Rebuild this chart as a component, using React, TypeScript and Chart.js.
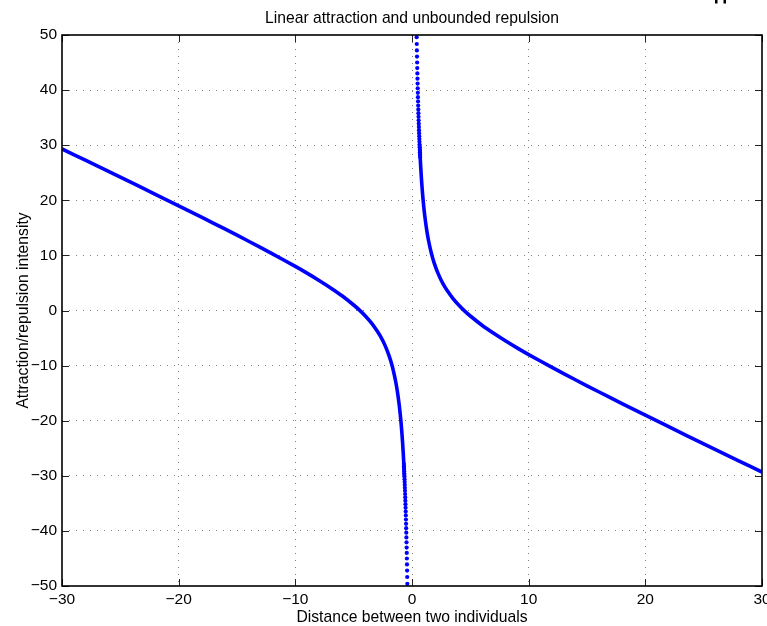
import React, { useEffect, useRef } from "react";
import { Chart, registerables } from "chart.js";

Chart.register(...registerables);

const TITLE = "Linear attraction and unbounded repulsion";
const X_LABEL = "Distance between two individuals";
const Y_LABEL = "Attraction/repulsion intensity";

const X_MIN = -30;
const X_MAX = 30;
const Y_MIN = -50;
const Y_MAX = 50;
const X_TICKS = [-30, -20, -10, 0, 10, 20, 30];
const Y_TICKS = [-50, -40, -30, -20, -10, 0, 10, 20, 30, 40, 50];

// Solid part of the right branch (x > 0)
const rightX = [0.65, 0.7, 0.8, 0.9, 1, 1.1, 1.25, 1.4, 1.6, 1.8, 2, 2.25, 2.5, 2.75, 3, 3.5, 4, 4.5, 5, 6, 7, 8, 9, 10, 12, 14, 16, 18, 20, 22, 25, 28, 30];
const rightY = [30.12, 27.87, 24.2, 21.32, 19, 17.08, 14.75, 12.89, 10.9, 9.31, 8, 6.64, 5.5, 4.52, 3.67, 2.21, 1, -0.06, -1, -2.67, -4.14, -5.5, -6.78, -8, -10.33, -12.57, -14.75, -16.89, -19, -21.09, -24.2, -27.29, -29.33];

// Solid part of the left branch (x < 0)
const leftX = [-30, -28, -25, -22, -20, -18, -16, -14, -12, -10, -9, -8, -7, -6, -5, -4.5, -4, -3.5, -3, -2.75, -2.5, -2.25, -2, -1.8, -1.6, -1.4, -1.25, -1.1, -1, -0.9, -0.8, -0.7, -0.65];
const leftY = [29.33, 27.29, 24.2, 21.09, 19, 16.89, 14.75, 12.57, 10.33, 8, 6.78, 5.5, 4.14, 2.67, 1, 0.06, -1, -2.21, -3.67, -4.52, -5.5, -6.64, -8, -9.31, -10.9, -12.89, -14.75, -17.08, -19, -21.32, -24.2, -27.87, -30.12];

// Separate sample dots near the asymptote
const rightDotX = [0.4, 0.41, 0.42, 0.43, 0.44, 0.45, 0.46, 0.47, 0.48, 0.49, 0.5, 0.51, 0.52, 0.53, 0.54, 0.55, 0.56, 0.57, 0.58, 0.59, 0.6, 0.61, 0.62, 0.63, 0.64, 0.65, 0.66, 0.67, 0.68, 0.69, 0.7];
const rightDotY = [49.6, 48.37, 47.2, 46.08, 45.01, 43.99, 43.02, 42.08, 41.19, 40.33, 39.5, 38.71, 37.94, 37.2, 36.5, 35.81, 35.15, 34.52, 33.9, 33.31, 32.73, 32.18, 31.64, 31.12, 30.61, 30.12, 29.64, 29.18, 28.73, 28.3, 27.87];
const leftDotX = [-0.4, -0.41, -0.42, -0.43, -0.44, -0.45, -0.46, -0.47, -0.48, -0.49, -0.5, -0.51, -0.52, -0.53, -0.54, -0.55, -0.56, -0.57, -0.58, -0.59, -0.6, -0.61, -0.62, -0.63, -0.64, -0.65, -0.66, -0.67, -0.68, -0.69, -0.7];
const leftDotY = [-49.6, -48.37, -47.2, -46.08, -45.01, -43.99, -43.02, -42.08, -41.19, -40.33, -39.5, -38.71, -37.94, -37.2, -36.5, -35.81, -35.15, -34.52, -33.9, -33.31, -32.73, -32.18, -31.64, -31.12, -30.61, -30.12, -29.64, -29.18, -28.73, -28.3, -27.87];

const FONT = "'Liberation Sans', Arial, Helvetica, sans-serif";
const BLUE = "#0000ff";

const zip = (xs: number[], ys: number[]) => xs.map((x, i) => ({ x, y: ys[i] }));
const minus = (v: number) => String(v).replace("-", "\u2212");

export default function App() {
  const ref = useRef<HTMLCanvasElement>(null);

  useEffect(() => {
    document.body.style.margin = "0";
    const canvas = ref.current;
    if (!canvas) return;

    const framePlugin = {
      id: "frame",
      afterDraw(chart: any) {
        const { ctx, chartArea: a, scales } = chart;
        ctx.save();
        // inward tick marks
        ctx.strokeStyle = "#222";
        ctx.lineWidth = 1;
        const tl = 7;
        ctx.beginPath();
        X_TICKS.forEach((v) => {
          const px = Math.round(scales.x.getPixelForValue(v)) + 0.5;
          ctx.moveTo(px, a.bottom);
          ctx.lineTo(px, a.bottom - tl);
          ctx.moveTo(px, a.top);
          ctx.lineTo(px, a.top + tl);
        });
        Y_TICKS.forEach((v) => {
          const py = Math.round(scales.y.getPixelForValue(v)) + 0.5;
          ctx.moveTo(a.left, py);
          ctx.lineTo(a.left + tl, py);
          ctx.moveTo(a.right, py);
          ctx.lineTo(a.right - tl, py);
        });
        ctx.stroke();
        // box
        ctx.strokeStyle = "#000";
        ctx.lineWidth = 1.6;
        ctx.strokeRect(a.left, a.top, a.right - a.left, a.bottom - a.top);
        // title
        ctx.fillStyle = "#000";
        ctx.font = `15.7px ${FONT}`;
        ctx.textAlign = "center";
        ctx.textBaseline = "alphabetic";
        ctx.fillText(TITLE, (a.left + a.right) / 2, 23);
        // x axis title
        ctx.fillText(X_LABEL, (a.left + a.right) / 2, 622);
        // y axis title
        ctx.save();
        ctx.translate(27.5, (a.top + a.bottom) / 2);
        ctx.rotate(-Math.PI / 2);
        ctx.fillText(Y_LABEL, 0, 0);
        ctx.restore();
        // small marks at top right of the image
        ctx.fillRect(715, 0, 2.5, 3.5);
        ctx.fillRect(723.5, 0, 2.5, 3.5);
        ctx.restore();
      },
    };

    const zeroPad = (s: any) => {
      s.paddingLeft = 0;
      s.paddingRight = 0;
      s.paddingTop = 0;
      s.paddingBottom = 0;
    };

    const chart = new Chart(canvas, {
      type: "scatter",
      data: {
        datasets: [
          {
            data: zip(leftX, leftY),
            showLine: true,
            borderColor: BLUE,
            borderWidth: 3.6,
            pointRadius: 0,
            tension: 0.3,
            fill: false,
          },
          {
            data: zip(rightX, rightY),
            showLine: true,
            borderColor: BLUE,
            borderWidth: 3.6,
            pointRadius: 0,
            tension: 0.3,
            fill: false,
          },
          {
            data: zip(rightDotX, rightDotY),
            showLine: false,
            pointRadius: 2.1,
            pointBackgroundColor: BLUE,
            pointBorderWidth: 0,
          },
          {
            data: zip(leftDotX, leftDotY),
            showLine: false,
            pointRadius: 2.1,
            pointBackgroundColor: BLUE,
            pointBorderWidth: 0,
          },
        ],
      },
      options: {
        animation: false,
        responsive: false,
        maintainAspectRatio: false,
        events: [],
        layout: { padding: { top: 35, right: 5, left: 0, bottom: 0 }, autoPadding: false },
        plugins: {
          legend: { display: false },
          tooltip: { enabled: false },
          title: { display: false },
        },
        scales: {
          x: {
            type: "linear",
            min: X_MIN,
            max: X_MAX,
            afterBuildTicks: (s: any) => {
              s.ticks = X_TICKS.map((v) => ({ value: v }));
            },
            afterFit: (s: any) => {
              s.height = 40;
              zeroPad(s);
            },
            ticks: {
              color: "#000",
              font: { family: FONT, size: 15.5 },
              padding: 4,
              maxRotation: 0,
              autoSkip: false,
              callback: (v: any) => minus(v),
            },
            grid: {
              drawTicks: false,
              color: (c: any) => (c.tick && (c.tick.value === X_MIN || c.tick.value === X_MAX) ? "rgba(0,0,0,0)" : "rgba(0,0,0,0.5)"),
              lineWidth: 1,
              tickLength: 0,
            },
            border: { display: false, dash: [1, 6] },
          },
          y: {
            type: "linear",
            min: Y_MIN,
            max: Y_MAX,
            afterBuildTicks: (s: any) => {
              s.ticks = Y_TICKS.map((v) => ({ value: v }));
            },
            afterFit: (s: any) => {
              s.width = 62;
              zeroPad(s);
            },
            ticks: {
              color: "#000",
              font: { family: FONT, size: 15.5 },
              padding: 5,
              autoSkip: false,
              callback: (v: any) => minus(v),
            },
            grid: {
              drawTicks: false,
              color: (c: any) => (c.tick && (c.tick.value === Y_MIN || c.tick.value === Y_MAX) ? "rgba(0,0,0,0)" : "rgba(0,0,0,0.5)"),
              lineWidth: 1,
              tickLength: 0,
            },
            border: { display: false, dash: [1, 6] },
          },
        },
      } as any,
      plugins: [framePlugin],
    });

    return () => chart.destroy();
  }, []);

  return (
    <div style={{ width: 767, height: 626, background: "#fff" }}>
      <canvas ref={ref} width={767} height={626} style={{ display: "block", width: 767, height: 626 }} />
    </div>
  );
}
